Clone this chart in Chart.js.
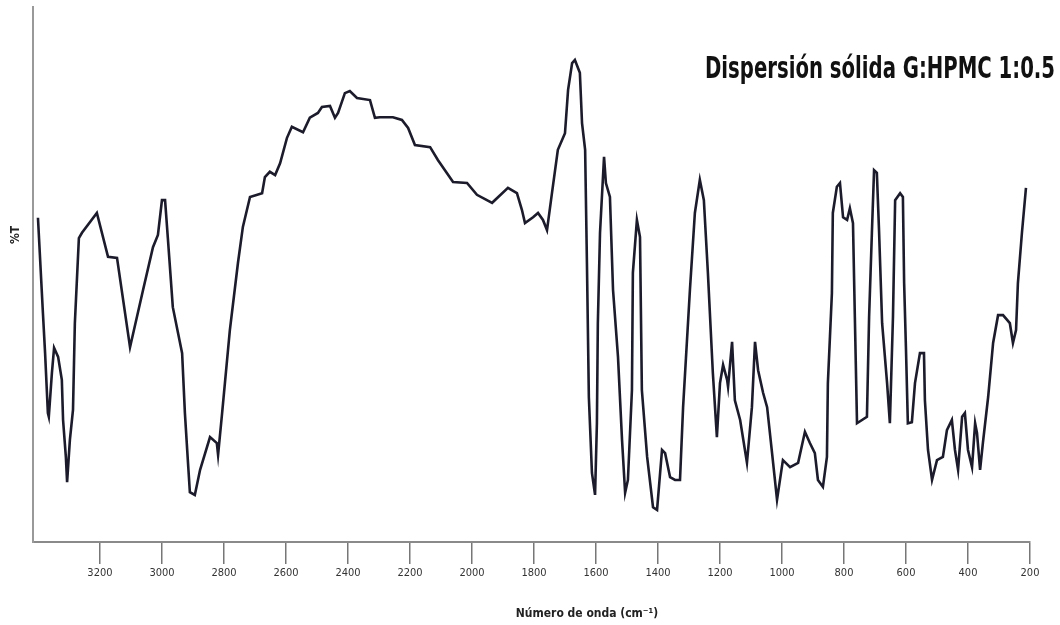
<!DOCTYPE html>
<html>
<head>
<meta charset="utf-8">
<title>Dispersión sólida G:HPMC 1:0.5</title>
<script src="https://cdn.jsdelivr.net/npm/chart.js@4/dist/chart.umd.min.js"></script>
<style>
  html, body { margin: 0; padding: 0; background: #fff; }
  canvas { display: block; }
</style>
</head>
<body>
<canvas id="irChart" width="1060" height="625"></canvas>
<script>
// Wavenumber (cm-1) and transmittance (%T, arbitrary 0-100)
const wavenumber = [
  3400, 3384, 3377, 3368, 3365, 3355, 3348, 3335, 3323, 3319, 3310, 3306, 3297, 3287, 3281, 3268,
  3258, 3210, 3174, 3145, 3103, 3061, 3029, 3013, 3000, 2990, 2981, 2965, 2935, 2926, 2916, 2910,
  2894, 2877, 2845, 2823, 2819, 2806, 2781, 2755, 2739, 2716, 2677, 2668, 2652, 2635, 2619, 2597,
  2581, 2545, 2523, 2497, 2484, 2458, 2442, 2432, 2410, 2394, 2371, 2329, 2313, 2297, 2255, 2226,
  2206, 2184, 2135, 2110, 2061, 2016, 1984, 1935, 1884, 1855, 1839, 1829, 1803, 1787, 1771, 1758,
  1742, 1723, 1700, 1690, 1677, 1668, 1652, 1645, 1635, 1629, 1623, 1613, 1603, 1597, 1594, 1587,
  1574, 1568, 1555, 1545, 1529, 1516, 1506, 1497, 1484, 1481, 1468, 1458, 1452, 1435, 1416, 1403,
  1387, 1377, 1361, 1345, 1329, 1319, 1297, 1281, 1265, 1252, 1239, 1223, 1210, 1200, 1190, 1177,
  1174, 1161, 1152, 1135, 1113, 1097, 1087, 1077, 1061, 1048, 1032, 1016, 997, 974, 948, 926,
  910, 894, 884, 868, 855, 852, 839, 836, 823, 813, 803, 790, 781, 771, 765, 758,
  726, 719, 710, 703, 694, 687, 677, 661, 652, 642, 635, 619, 610, 606, 600, 594,
  581, 571, 555, 542, 539, 529, 516, 500, 481, 468, 452, 442, 432, 419, 410, 400,
  387, 377, 371, 361, 352, 335, 319, 303, 287, 265, 255, 245, 239, 226, 213
];
const transmittance = [
  60.6, 42.8, 35.3, 24.1, 23.4, 31.6, 36.3, 34.6, 30.3, 22.8, 15.9, 11.2, 19.1, 24.7, 40.9, 56.8,
  57.8, 61.5, 53.3, 53.1, 36.4, 47.1, 55.1, 57.4, 63.9, 63.9, 56.8, 43.9, 35.3, 24.1, 14.8, 9.3,
  8.8, 13.5, 19.6, 18.5, 16.3, 24.1, 39.6, 52.1, 58.9, 64.5, 65.2, 68.2, 69.2, 68.6, 70.8, 75.5,
  77.6, 76.6, 79.3, 80.2, 81.3, 81.5, 79.3, 80.2, 83.9, 84.3, 83.0, 82.6, 79.3, 79.4, 79.4, 78.9,
  77.4, 74.2, 73.8, 71.4, 67.3, 67.1, 64.9, 63.4, 66.2, 65.2, 62.1, 59.6, 60.7, 61.5, 60.2, 58.3,
  65.2, 73.3, 76.4, 84.5, 89.5, 90.1, 87.7, 78.3, 73.3, 51.4, 27.1, 12.9, 8.8, 22.2, 40.9, 57.8,
  72.0, 67.1, 64.5, 47.1, 34.6, 19.1, 9.2, 11.6, 28.4, 50.3, 60.2, 57.0, 28.4, 15.9, 6.5, 6.0,
  17.2, 16.6, 12.1, 11.6, 11.6, 25.2, 47.1, 61.5, 67.7, 63.9, 50.3, 31.6, 19.6, 29.7, 33.1, 30.3,
  29.0, 37.4, 26.5, 22.8, 14.8, 25.2, 37.4, 32.1, 27.9, 25.2, 16.6, 7.9, 15.3, 14.0, 14.8, 20.6,
  18.5, 16.6, 11.6, 10.3, 15.9, 29.7, 46.5, 61.5, 66.4, 67.1, 60.7, 60.2, 62.4, 59.6, 42.1, 22.2,
  23.4, 42.1, 57.8, 69.5, 69.0, 58.3, 40.9, 29.7, 22.2, 42.1, 63.9, 65.2, 64.5, 48.4, 35.9, 22.2,
  22.4, 29.7, 35.3, 35.3, 26.5, 17.2, 11.6, 15.3, 15.9, 20.9, 22.8, 17.2, 13.5, 23.4, 24.1, 17.2,
  14.0, 22.2, 20.4, 13.5, 18.5, 27.1, 37.2, 42.4, 42.4, 40.9, 37.2, 39.6, 48.4, 57.8, 66.2
];
const tickValues = [3200, 3000, 2800, 2600, 2400, 2200, 2000, 1800, 1600, 1400, 1200, 1000, 800, 600, 400, 200];
const tickLabels = ['3200', '3000', '2800', '2600', '2400', '2200', '2000', '1800', '1600', '1400', '1200', '1000', '800', '600', '400', '200'];

const chartTitle = 'Dispersión sólida G:HPMC 1:0.5';
const xTitle = 'Número de onda (cm⁻¹)';
const yTitle = '%T';

const condensed = '"DejaVu Sans Condensed", "DejaVu Sans", sans-serif';

// texts placed freely on the page (main title and the two axis titles)
const labelsPlugin = {
  id: 'labels',
  afterDraw(chart) {
    const ctx = chart.ctx;
    ctx.save();
    ctx.fillStyle = '#111';
    // main title, squeezed horizontally like the original condensed face
    ctx.font = 'bold 31px ' + condensed;
    const w = ctx.measureText(chartTitle).width;
    ctx.textBaseline = 'middle';
    ctx.translate(1055, 70);
    ctx.scale(350 / w, 1);
    ctx.textAlign = 'right';
    ctx.fillText(chartTitle, 0, 0);
    ctx.restore();

    ctx.save();
    ctx.fillStyle = '#222';
    ctx.font = 'bold 12px ' + condensed;
    ctx.textAlign = 'center';
    ctx.textBaseline = 'middle';
    ctx.fillText(xTitle, 587, 614);
    ctx.translate(16, 235);
    ctx.rotate(-Math.PI / 2);
    ctx.fillText(yTitle, 0, 0);
    ctx.restore();
  }
};

const ctx = document.getElementById('irChart').getContext('2d');
new Chart(ctx, {
  type: 'line',
  data: {
    datasets: [{
      data: wavenumber.map((x, i) => ({ x: x, y: transmittance[i] })),
      borderColor: '#1b1b2b',
      borderWidth: 2.6,
      pointRadius: 0,
      tension: 0,
      fill: false
    }]
  },
  options: {
    responsive: false,
    animation: false,
    layout: { padding: { top: 7, right: 30, left: 0, bottom: 0 } },
    plugins: {
      legend: { display: false },
      tooltip: { enabled: false }
    },
    scales: {
      x: {
        type: 'linear',
        reverse: true,
        min: 200,
        max: 3416,
        afterBuildTicks: scale => {
          scale.ticks = tickValues.map(v => ({ value: v }));
        },
        afterFit: scale => { scale.height = 83; },
        ticks: {
          autoSkip: false,
          maxRotation: 0,
          padding: 3,
          color: '#333',
          font: { family: condensed, size: 11 },
          callback: v => tickLabels[tickValues.indexOf(v)]
        },
        grid: {
          drawOnChartArea: false,
          drawTicks: true,
          tickLength: 22,
          tickColor: '#777',
          lineWidth: 1.5
        },
        border: { display: true, color: '#8a8a8a', width: 2 }
      },
      y: {
        min: 0,
        max: 100,
        afterFit: scale => { scale.width = 33; },
        ticks: { display: false },
        grid: { drawOnChartArea: false, drawTicks: false },
        border: { display: true, color: '#999', width: 2 }
      }
    }
  },
  plugins: [labelsPlugin]
});
</script>
</body>
</html>
